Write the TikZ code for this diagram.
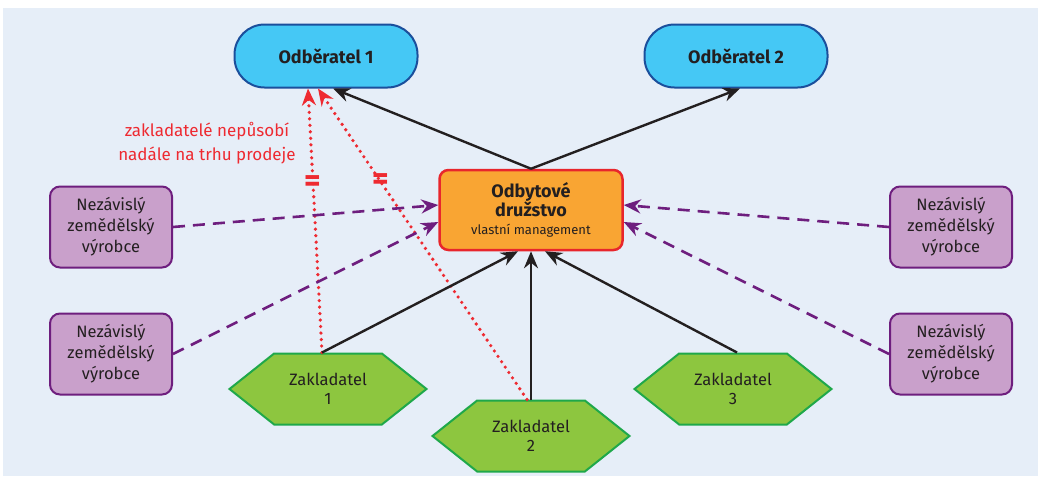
\documentclass[tikz,border=0pt]{standalone}
\usepackage{fontspec}
\setmainfont{Fira Sans}
\usetikzlibrary{positioning, arrows.meta, shapes.symbols}

\definecolor{panel}{HTML}{E6EEF8}
\definecolor{buyerfill}{HTML}{45C8F5}
\definecolor{buyerline}{HTML}{1B4F9C}
\definecolor{coopfill}{HTML}{F9A533}
\definecolor{coopline}{HTML}{E8262C}
\definecolor{farmfill}{HTML}{C9A0CB}
\definecolor{farmline}{HTML}{6E1E7E}
\definecolor{founderfill}{HTML}{8DC63F}
\definecolor{founderline}{HTML}{1FA84A}
\definecolor{redline}{HTML}{EE2A31}
\definecolor{ink}{HTML}{231F20}

\tikzset{
  buyer/.style={draw=buyerline, fill=buyerfill, line width=2pt,
    rounded corners=30pt, minimum width=183pt, minimum height=63pt,
    font=\bfseries\fontsize{18}{20}\selectfont, text=ink},
  coop/.style={draw=coopline, fill=coopfill, line width=2.5pt,
    rounded corners=9pt, minimum width=183pt, minimum height=80pt,
    inner sep=2pt, align=center, text=ink,
    font=\bfseries\fontsize{18}{19}\selectfont},
  farmer/.style={draw=farmline, fill=farmfill, line width=2pt,
    rounded corners=10pt, minimum width=122pt, minimum height=81pt,
    align=center, text=ink, font=\fontsize{16.5}{21}\selectfont},
  founder/.style={signal, signal from=nowhere, signal to=west and east,
    signal pointer angle=77, draw=founderline, fill=founderfill,
    line width=2pt, minimum width=197pt, minimum height=71pt,
    inner sep=0pt, align=center, text=ink,
    font=\fontsize{16.5}{19}\selectfont},
  sells/.style={draw=ink, line width=2.4pt,
    -{Stealth[length=17pt, width=14pt]}},
  supplies/.style={draw=farmline, line width=2.6pt, dash pattern=on 12pt off 8pt,
    -{Stealth[length=17pt, width=14pt]}},
  ceased/.style={draw=redline, line width=3.6pt, line cap=round,
    dash pattern=on 0pt off 6.5pt,
    -{Stealth[length=17pt, width=14pt, line cap=butt]}},
  stopmark/.style={text=redline, inner sep=0pt,
    font=\bfseries\fontsize{32}{32}\selectfont}
}

\begin{document}
\begin{tikzpicture}[x=1pt, y=-1pt]
\useasboundingbox (0,0) rectangle (1038,477);
\fill[white] (0,0) rectangle (1038,477);
\fill[panel] (3,8) rectangle (1038,476);

% odberatele
\node[buyer] (od1) at (326,56) {Odběratel 1};
\node[buyer] (od2) at (736,56) {Odběratel 2};

% druzstvo
\node[coop] (dr) at (531,210)
  {Odbytové\\družstvo\\[-1pt]
   {\mdseries\fontsize{13}{15}\selectfont vlastní management}};

% nezavisli vyrobci
\node[farmer] (nl1) at (111,227) {Nezávislý\\zemědělský\\výrobce};
\node[farmer] (nl2) at (111,354) {Nezávislý\\zemědělský\\výrobce};
\node[farmer] (nr1) at (951,227) {Nezávislý\\zemědělský\\výrobce};
\node[farmer] (nr2) at (951,354) {Nezávislý\\zemědělský\\výrobce};

% zakladatele
\node[founder] (z1) at (328,389) {Zakladatel\\1};
\node[founder] (z2) at (531,436) {Zakladatel\\2};
\node[founder] (z3) at (733,389) {Zakladatel\\3};

\node[text=redline, align=center, font=\fontsize{17}{24}\selectfont]
  (note) at (207,143) {zakladatelé nepůsobí\\nadále na trhu prodeje};

\draw[ceased] ([xshift=-6pt]z1.north) -- ([xshift=-18pt]od1.south)
  node[stopmark, pos=.64] (m1) {=};
\draw[ceased] ([xshift=-4pt]z2.north) -- ([xshift=-8pt]od1.south)
  node[stopmark, pos=.70] (m2) {=};

\draw[sells] (dr.north) -- ([xshift=7pt]od1.south);
\draw[sells] (dr.north) -- ([xshift=4pt]od2.south);
\draw[sells] ([xshift=-6pt]z1.north) -- ([xshift=-13pt]dr.south);
\draw[sells] (z2.north) -- (dr.south);
\draw[sells] ([xshift=4pt]z3.north) -- ([xshift=14pt]dr.south);

\draw[supplies] (nl1.east) -- ([yshift=5pt]dr.west);
\draw[supplies] (nl2.east) -- ([yshift=-12pt]dr.west);
\draw[supplies] (nr1.west) -- ([yshift=5pt]dr.east);
\draw[supplies] (nr2.west) -- ([yshift=-12pt]dr.east);
\end{tikzpicture}
\end{document}
